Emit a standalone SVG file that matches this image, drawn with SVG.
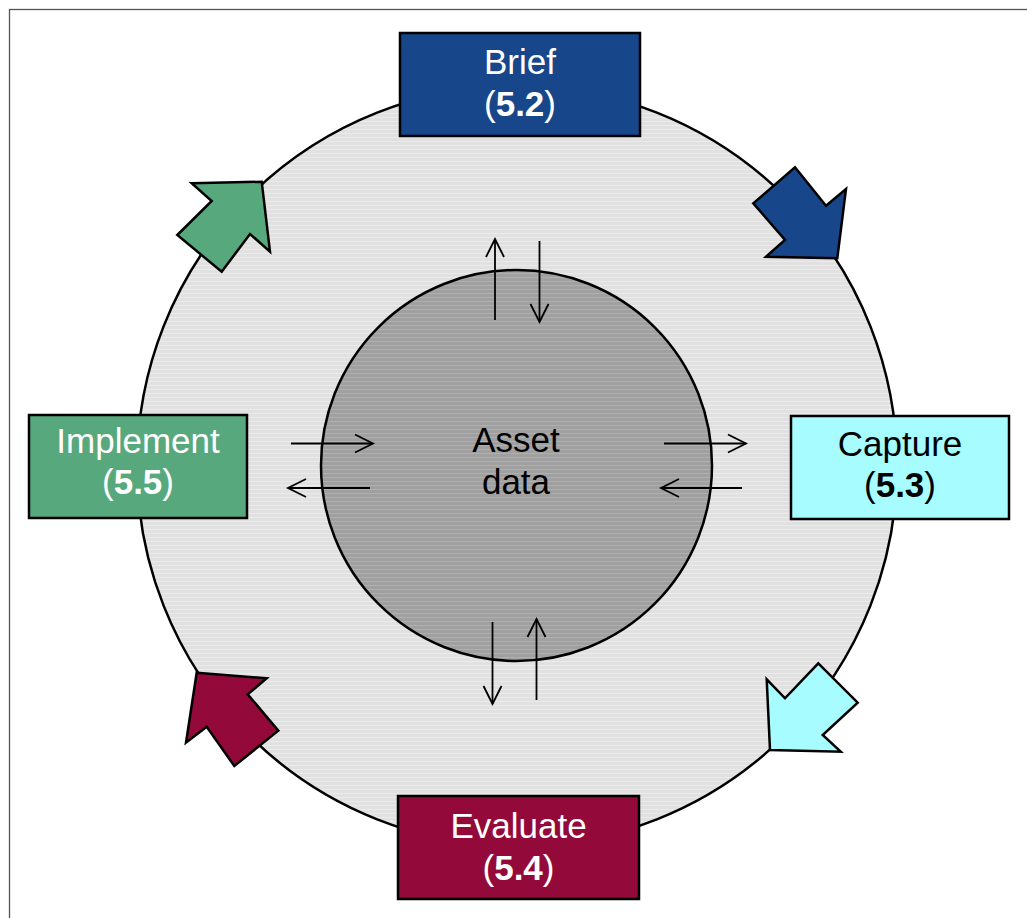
<svg xmlns="http://www.w3.org/2000/svg" width="1027" height="918" viewBox="0 0 1027 918">
<style>
.box{stroke:#000;stroke-width:2.5}
.blk{stroke:#000;stroke-width:2.5;stroke-linejoin:miter}
.t{font-family:"Liberation Sans",Arial,sans-serif;font-size:35px;text-anchor:middle}
.w{fill:#fff}
.k{fill:#000}
.b{font-weight:bold}
.ln{stroke:#000;stroke-width:1.8;fill:none;marker-end:url(#ah)}
</style>
<defs>
<pattern id="pOuter" width="8" height="4" patternUnits="userSpaceOnUse">
<rect width="8" height="4" fill="#e1e1e1"/>
<rect y="1" width="8" height="1" fill="#ebebeb"/>
</pattern>
<pattern id="pInner" width="8" height="4" patternUnits="userSpaceOnUse">
<rect width="8" height="4" fill="#a0a0a0"/>
<rect y="1" width="8" height="1" fill="#b0b0b0"/>
</pattern>
<marker id="ah" markerUnits="userSpaceOnUse" viewBox="0 0 24 24" markerWidth="24" markerHeight="24" refX="20" refY="12" orient="auto">
<path d="M2,3 L20,12 L2,21" fill="none" stroke="#000" stroke-width="1.8"/>
</marker>
</defs>
<rect x="9.5" y="9.5" width="1100" height="1000" fill="#fff" stroke="#555" stroke-width="1.3"/>

<g id="outer-cycle">
<circle cx="517" cy="466" r="380" fill="url(#pOuter)" stroke="#000" stroke-width="2.5"/>
</g>
<g id="asset-data">
<circle cx="516.5" cy="465.5" r="195.5" fill="url(#pInner)" stroke="#000" stroke-width="2.5"/>
<text class="t k" x="516" y="452">Asset</text>
<text class="t k" x="516" y="494">data</text>
</g>

<g id="connectors">
<line class="ln" x1="495" y1="320" x2="495" y2="239"/>
<line class="ln" x1="539.5" y1="241" x2="539.5" y2="322"/>
<line class="ln" x1="291" y1="443.5" x2="373" y2="443.5"/>
<line class="ln" x1="370" y1="488" x2="288" y2="488"/>
<line class="ln" x1="664" y1="443.5" x2="746" y2="443.5"/>
<line class="ln" x1="742" y1="488" x2="661" y2="488"/>
<line class="ln" x1="492.5" y1="622" x2="492.5" y2="704"/>
<line class="ln" x1="536.5" y1="700" x2="536.5" y2="619"/>
</g>

<g id="arrow-brief-capture">
<polygon class="blk" fill="#17468a" points="795,167.3 826,205.7 846,189 837.3,258.3 766,256.7 785,240 753.3,203.3"/>
</g>
<g id="arrow-capture-evaluate">
<polygon class="blk" fill="#a6fcfe" points="818.3,663.3 857.7,702.7 822.7,735 840.7,751.7 770,750 766.7,679.3 785,698.3"/>
</g>
<g id="arrow-evaluate-implement">
<polygon class="blk" fill="#930a3a" points="196.7,672.7 266.7,678.3 247.7,694.3 278.3,730.7 234.3,766 206.7,726.7 186,742.7"/>
</g>
<g id="arrow-implement-brief">
<polygon class="blk" fill="#58a87e" points="191.7,183.3 261.7,181.7 270,251.7 250,234 221.7,271.7 177.3,235 211.7,201"/>
</g>

<g id="brief">
<rect class="box" x="400" y="33" width="240" height="103" fill="#17468a"/>
<text class="t w" x="520" y="74">Brief</text>
<text class="t w" x="520" y="116">(<tspan class="b">5.2</tspan>)</text>
</g>
<g id="capture">
<rect class="box" x="791" y="416" width="218" height="103" fill="#a6fcfe"/>
<text class="t k" x="900" y="456">Capture</text>
<text class="t k" x="900" y="497">(<tspan class="b">5.3</tspan>)</text>
</g>
<g id="evaluate">
<rect class="box" x="398" y="796" width="241" height="103" fill="#930a3a"/>
<text class="t w" x="518.5" y="838">Evaluate</text>
<text class="t w" x="518.5" y="880">(<tspan class="b">5.4</tspan>)</text>
</g>
<g id="implement">
<rect class="box" x="29" y="415" width="218" height="103" fill="#58a87e"/>
<text class="t w" x="138" y="453">Implement</text>
<text class="t w" x="138" y="494">(<tspan class="b">5.5</tspan>)</text>
</g>
</svg>
